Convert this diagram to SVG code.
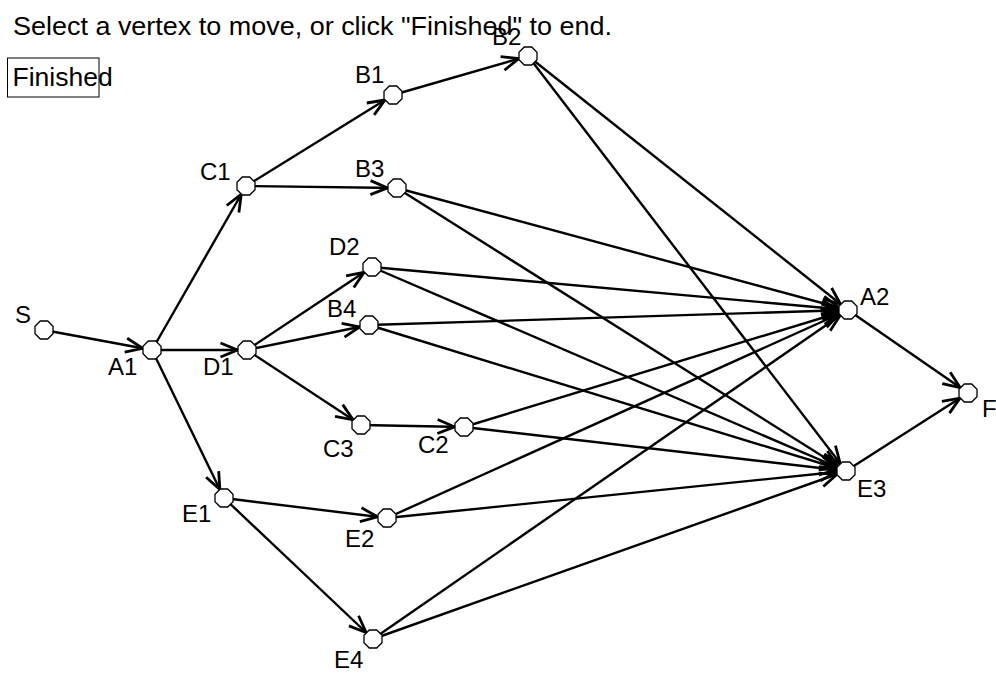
<svg xmlns="http://www.w3.org/2000/svg" xmlns:xlink="http://www.w3.org/1999/xlink" width="996" height="673" viewBox="0 0 996 673">
<style>
text{font-family:"Liberation Sans",Arial,sans-serif;font-size:24px;fill:#000}
.big{font-size:26.5px}
.e{stroke:#000;stroke-width:2.4;fill:none;marker-end:url(#ah)}
.n{fill:#fff;stroke:#000;stroke-width:1.3}
</style>
<defs>
<marker id="ah" markerUnits="userSpaceOnUse" markerWidth="30" markerHeight="30" viewBox="-20 -10 30 20" refX="9.5" refY="0" orient="auto" overflow="visible">
<path d="M-17,-7 L0,0 L-17,7" fill="none" stroke="#000" stroke-width="2.8"/>
</marker>
<polygon id="oct" points="9,3.7 3.7,9 -3.7,9 -9,3.7 -9,-3.7 -3.7,-9 3.7,-9 9,-3.7"/>
</defs>
<rect width="996" height="673" fill="#fff"/>
<text class="big" x="13" y="35" textLength="599" lengthAdjust="spacingAndGlyphs">Select a vertex to move, or click "Finished" to end.</text>
<g id="finished"><rect x="7.5" y="58" width="91.5" height="39" fill="none" stroke="#000" stroke-width="1"/><text class="big" x="12.5" y="86">Finished</text></g>
<g id="edges">
<line class="e" x1="44" y1="330" x2="152" y2="350"/>
<line class="e" x1="152" y1="350" x2="246" y2="186"/>
<line class="e" x1="152" y1="350" x2="247" y2="350"/>
<line class="e" x1="152" y1="350" x2="224" y2="498"/>
<line class="e" x1="246" y1="186" x2="393" y2="95"/>
<line class="e" x1="246" y1="186" x2="397" y2="188"/>
<line class="e" x1="393" y1="95" x2="528" y2="56"/>
<line class="e" x1="528" y1="56" x2="848" y2="310"/>
<line class="e" x1="528" y1="56" x2="846" y2="471"/>
<line class="e" x1="397" y1="188" x2="848" y2="310"/>
<line class="e" x1="397" y1="188" x2="846" y2="471"/>
<line class="e" x1="247" y1="350" x2="372" y2="267"/>
<line class="e" x1="247" y1="350" x2="369" y2="325"/>
<line class="e" x1="247" y1="350" x2="361" y2="425"/>
<line class="e" x1="372" y1="267" x2="848" y2="310"/>
<line class="e" x1="372" y1="267" x2="846" y2="471"/>
<line class="e" x1="369" y1="325" x2="848" y2="310"/>
<line class="e" x1="369" y1="325" x2="846" y2="471"/>
<line class="e" x1="361" y1="425" x2="464" y2="427"/>
<line class="e" x1="464" y1="427" x2="848" y2="310"/>
<line class="e" x1="464" y1="427" x2="846" y2="471"/>
<line class="e" x1="224" y1="498" x2="387" y2="518"/>
<line class="e" x1="224" y1="498" x2="373" y2="639"/>
<line class="e" x1="387" y1="518" x2="848" y2="310"/>
<line class="e" x1="387" y1="518" x2="846" y2="471"/>
<line class="e" x1="373" y1="639" x2="848" y2="310"/>
<line class="e" x1="373" y1="639" x2="846" y2="471"/>
<line class="e" x1="848" y1="310" x2="968" y2="393"/>
<line class="e" x1="846" y1="471" x2="968" y2="393"/>
</g>
<g id="S"><use xlink:href="#oct" class="n" x="44" y="330"/><text x="15" y="323">S</text></g>
<g id="A1"><use xlink:href="#oct" class="n" x="152" y="350"/><text x="108" y="375">A1</text></g>
<g id="D1"><use xlink:href="#oct" class="n" x="247" y="350"/><text x="203" y="375">D1</text></g>
<g id="C1"><use xlink:href="#oct" class="n" x="246" y="186"/><text x="200" y="180">C1</text></g>
<g id="B1"><use xlink:href="#oct" class="n" x="393" y="95"/><text x="355" y="83">B1</text></g>
<g id="B2"><use xlink:href="#oct" class="n" x="528" y="56"/><text x="492" y="45">B2</text></g>
<g id="B3"><use xlink:href="#oct" class="n" x="397" y="188"/><text x="355" y="177">B3</text></g>
<g id="D2"><use xlink:href="#oct" class="n" x="372" y="267"/><text x="329" y="255">D2</text></g>
<g id="B4"><use xlink:href="#oct" class="n" x="369" y="325"/><text x="327" y="317">B4</text></g>
<g id="C3"><use xlink:href="#oct" class="n" x="361" y="425"/><text x="323" y="457">C3</text></g>
<g id="C2"><use xlink:href="#oct" class="n" x="464" y="427"/><text x="418" y="453">C2</text></g>
<g id="E1"><use xlink:href="#oct" class="n" x="224" y="498"/><text x="182" y="522">E1</text></g>
<g id="E2"><use xlink:href="#oct" class="n" x="387" y="518"/><text x="345" y="547">E2</text></g>
<g id="E4"><use xlink:href="#oct" class="n" x="373" y="639"/><text x="334" y="668">E4</text></g>
<g id="A2"><use xlink:href="#oct" class="n" x="848" y="310"/><text x="860" y="305">A2</text></g>
<g id="E3"><use xlink:href="#oct" class="n" x="846" y="471"/><text x="857" y="497">E3</text></g>
<g id="F"><use xlink:href="#oct" class="n" x="968" y="393"/><text x="982" y="417">F</text></g>
</svg>
